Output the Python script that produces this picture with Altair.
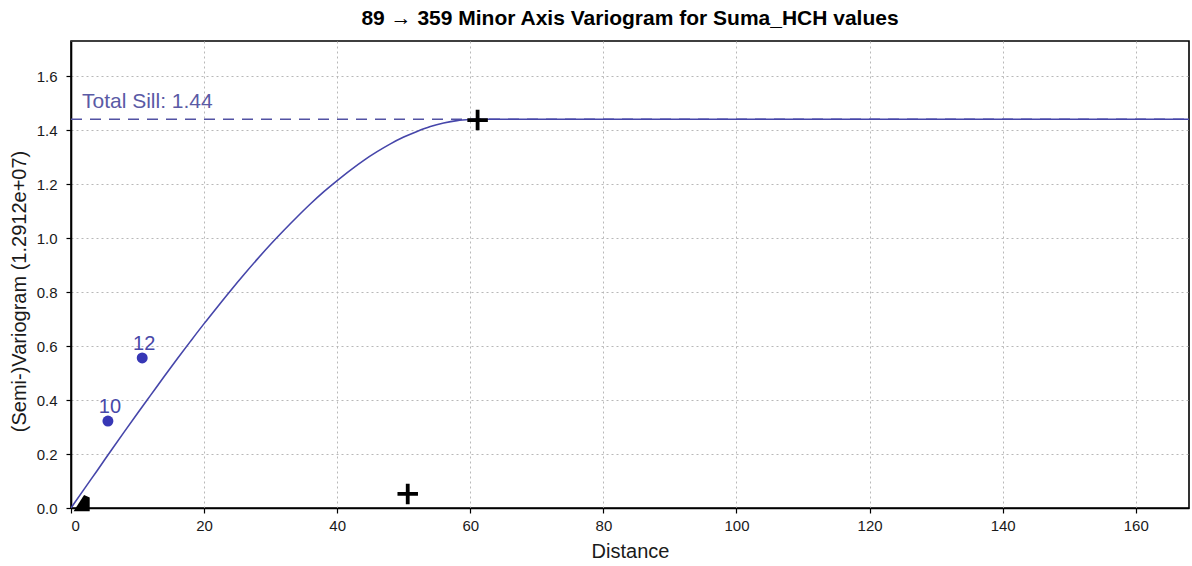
import altair as alt
import pandas as pd

# Experimental variogram points (distance, semivariance, pair count)
exp_dist = [5.55, 10.7]
exp_val = [0.322, 0.556]
exp_pairs = ["10", "12"]

# Model curve
model_dist = [0, 2, 4, 6, 8, 10, 12, 14, 16, 18, 20, 22, 24, 26, 28, 30, 32, 34,
              36, 38, 40, 42, 44, 46, 48, 50, 52, 54, 56, 58, 60, 61, 168]
model_val = [0.0, 0.071, 0.141, 0.212, 0.282, 0.351, 0.419, 0.487, 0.554, 0.619,
             0.683, 0.745, 0.806, 0.865, 0.922, 0.977, 1.029, 1.079, 1.127, 1.172,
             1.213, 1.252, 1.288, 1.320, 1.349, 1.374, 1.395, 1.413, 1.426, 1.435,
             1.439, 1.44, 1.44]

sill = 1.44
sill_label = "Total Sill: 1.44"

plus_dist = [61.1, 50.6]
plus_val = [1.437, 0.052]

wedge_dist = [1.6]
wedge_val = [0.018]

X_DOMAIN = [0, 168]
Y_DOMAIN = [0, 1.73]

FONT = "Liberation Sans"

xs = alt.Scale(domain=X_DOMAIN, nice=False, zero=False)
ys = alt.Scale(domain=Y_DOMAIN, nice=False, zero=False)

x_axis = alt.Axis(title="Distance", values=[0, 20, 40, 60, 80, 100, 120, 140, 160],
                  format="d", grid=True)
y_axis = alt.Axis(title="(Semi-)Variogram (1.2912e+07)",
                  values=[0, 0.2, 0.4, 0.6, 0.8, 1.0, 1.2, 1.4, 1.6],
                  format=".1f", grid=True, titleY=250)

model_df = pd.DataFrame({"d": model_dist, "v": model_val})
exp_df = pd.DataFrame({"d": exp_dist, "v": exp_val, "n": exp_pairs})
plus_df = pd.DataFrame({"d": plus_dist, "v": plus_val})
wedge_df = pd.DataFrame({"d": wedge_dist, "v": wedge_val})
sill_df = pd.DataFrame({"d": [X_DOMAIN[0], X_DOMAIN[1]], "v": [sill, sill]})
sill_text_df = pd.DataFrame({"d": [1.65], "v": [sill], "t": [sill_label]})

base_x = alt.X("d:Q", scale=xs, axis=x_axis)
base_y = alt.Y("v:Q", scale=ys, axis=y_axis)

sill_line = alt.Chart(sill_df).mark_line(
    color="#5252a3", strokeWidth=1.6, strokeDash=[11, 8], clip=True
).encode(x=base_x, y=base_y)

curve = alt.Chart(model_df).mark_line(
    color="#4646aa", strokeWidth=1.6, interpolate="monotone", clip=True
).encode(x=base_x, y=base_y)

pts = alt.Chart(exp_df).mark_circle(
    color="#3737b5", size=120, opacity=1
).encode(x=base_x, y=base_y)

pt_labels = alt.Chart(exp_df).mark_text(
    color="#4848a8", fontSize=20, font=FONT, baseline="bottom", align="center",
    dx=2, dy=-4
).encode(x=base_x, y=base_y, text="n:N")

sill_text = alt.Chart(sill_text_df).mark_text(
    color="#5a5aa5", fontSize=21, font=FONT, baseline="bottom", align="left", dy=-7
).encode(x=base_x, y=base_y, text="t:N")

plus = alt.Chart(plus_df).mark_point(
    shape="M-1,0L1,0M0,-1L0,1", size=420, strokeWidth=3.8, color="black",
    filled=False, opacity=1
).encode(x=base_x, y=base_y)

wedge = alt.Chart(wedge_df).mark_point(
    shape="M-1,1L1,1L1,-0.7L0.3,-1Z", size=260, color="black", filled=True,
    opacity=1
).encode(x=base_x, y=base_y)

chart = alt.layer(sill_line, curve, pts, pt_labels, sill_text, plus, wedge).properties(
    width=1118, height=467,
    title=alt.TitleParams("89 → 359 Minor Axis Variogram for Suma_HCH values",
                          font=FONT, fontSize=21, fontWeight="bold", color="black",
                          anchor="middle", offset=12),
    autosize=alt.AutoSizeParams(type="none"),
    padding={"left": 71, "top": 41, "right": 3, "bottom": 58},
).configure_view(
    stroke="black", strokeWidth=1.6
).configure_axis(
    labelFont=FONT, titleFont=FONT, labelFontSize=15, titleFontSize=20,
    labelColor="#1a1a1a", titleColor="#1a1a1a", titleFontWeight="normal",
    tickColor="black", tickSize=5, tickWidth=1.2, domainColor="black",
    domainWidth=1.6, gridColor="#b8b8b8", gridDash=[2, 3], gridWidth=1,
    labelPadding=5
).configure_axisX(
    titlePadding=8
).configure_axisY(
    labelPadding=9, titlePadding=7
)

chart.save("out.html", embed_options={"renderer": "svg", "actions": False})
